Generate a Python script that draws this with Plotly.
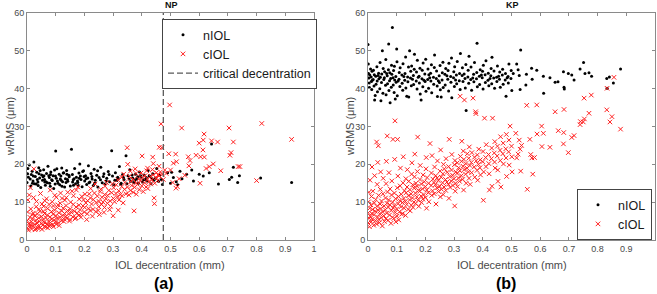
import plotly.graph_objects as go

W, H = 657, 294

# ---------------- data ----------------
x_ticks = [0, 0.1, 0.2, 0.3, 0.4, 0.5, 0.6, 0.7, 0.8, 0.9, 1]
x_tick_labels = ["0", "0.1", "0.2", "0.3", "0.4", "0.5", "0.6", "0.7", "0.8", "0.9", "1"]
y_ticks = [0, 10, 20, 30, 40, 50, 60]
y_tick_labels = ["0", "10", "20", "30", "40", "50", "60"]
critical_decentration = 0.475

# NP panel, nIOL (x mm, wRMS um)
np_niol = [
    (0.000, 15.2), (0.002, 17.5), (0.008, 19.8), (0.011, 16.1), (0.013, 14.3), (0.018, 18.2), (0.021, 15.6),
    (0.024, 20.6), (0.029, 16.8), (0.032, 14.8), (0.034, 17.9), (0.038, 15.3), (0.041, 19.1), (0.044, 16.4),
    (0.048, 13.9), (0.051, 17.2), (0.054, 15.8), (0.058, 18.6), (0.061, 16.0), (0.064, 14.5), (0.068, 17.6),
    (0.071, 15.1), (0.073, 19.5), (0.078, 16.5), (0.081, 14.2), (0.083, 18.0), (0.088, 15.7), (0.091, 17.0),
    (0.093, 13.6), (0.100, 23.5), (0.102, 16.3), (0.104, 18.8), (0.108, 15.0), (0.112, 17.4), (0.114, 14.6),
    (0.118, 16.9), (0.121, 19.0), (0.124, 15.4), (0.128, 17.8), (0.131, 14.0), (0.134, 16.2), (0.138, 18.4),
    (0.142, 15.5), (0.147, 16.7), (0.151, 14.3), (0.155, 24.0), (0.158, 17.3), (0.161, 15.9), (0.166, 18.9),
    (0.169, 14.9), (0.172, 16.6), (0.177, 15.2), (0.181, 17.7), (0.184, 20.1), (0.188, 16.0), (0.192, 14.1),
    (0.197, 18.3), (0.201, 15.6), (0.204, 17.0), (0.208, 14.7), (0.212, 16.4), (0.214, 19.6), (0.219, 15.3),
    (0.223, 17.6), (0.227, 16.1), (0.231, 14.4), (0.234, 18.7), (0.238, 15.8), (0.243, 17.1), (0.247, 14.0),
    (0.251, 16.5), (0.257, 19.2), (0.262, 15.1), (0.268, 17.5), (0.272, 14.8), (0.278, 16.3), (0.283, 18.1),
    (0.288, 15.4), (0.295, 23.6), (0.298, 16.9), (0.302, 14.6), (0.308, 17.8), (0.313, 15.7), (0.318, 16.2),
    (0.322, 19.4), (0.328, 15.0), (0.333, 17.3), (0.338, 16.0), (0.345, 22.3), (0.348, 14.9), (0.352, 17.0),
    (0.358, 18.6), (0.362, 15.5), (0.368, 16.4), (0.372, 15.2), (0.378, 17.4), (0.382, 16.1), (0.388, 15.0),
    (0.392, 18.0), (0.398, 16.6), (0.402, 15.3), (0.408, 17.2), (0.412, 16.0), (0.418, 15.6), (0.422, 18.4),
    (0.428, 16.8), (0.432, 14.9), (0.438, 17.5), (0.442, 15.8), (0.448, 16.3), (0.452, 18.9), (0.458, 15.5),
    (0.462, 17.1), (0.468, 16.0), (0.472, 14.7),
    (0.005, 16.6), (0.015, 17.3), (0.026, 14.9), (0.036, 16.0), (0.046, 18.4), (0.056, 16.7), (0.066, 15.4),
    (0.076, 17.0), (0.086, 15.9), (0.096, 18.5), (0.106, 15.6), (0.116, 16.1), (0.126, 17.7), (0.136, 15.2),
    (0.146, 17.1), (0.164, 16.2), (0.176, 15.6), (0.186, 16.9), (0.194, 18.1), (0.206, 16.2), (0.216, 15.1),
    (0.226, 16.8), (0.236, 15.0), (0.246, 18.3), (0.256, 15.9), (0.266, 16.8), (0.276, 15.6), (0.286, 17.3),
    (0.306, 15.8), (0.316, 16.6), (0.326, 14.7), (0.336, 16.5), (0.356, 16.1), (0.366, 17.2), (0.376, 15.7),
    (0.386, 16.7), (0.396, 17.0), (0.406, 15.9), (0.416, 16.5), (0.426, 17.0), (0.436, 16.2), (0.003, 18.9),
    (0.022, 16.9), (0.042, 17.5), (0.062, 15.3), (0.082, 17.3), (0.098, 14.8), (0.122, 14.2), (0.141, 16.0),
    (0.162, 14.5), (0.182, 16.3), (0.019, 15.0), (0.039, 14.4), (0.059, 17.0), (0.079, 15.0), (0.099, 16.9),
    (0.119, 15.8), (0.139, 17.4), (0.159, 15.3), (0.179, 14.4), (0.199, 16.8),
    (0.490, 17.8), (0.500, 15.0), (0.504, 17.9), (0.520, 15.4), (0.533, 18.2), (0.540, 16.2), (0.556, 17.4),
    (0.574, 18.5), (0.580, 15.6), (0.600, 17.4), (0.614, 16.9), (0.635, 17.8), (0.643, 25.4), (0.667, 14.8),
    (0.705, 16.0), (0.713, 16.6), (0.719, 19.2), (0.734, 15.2), (0.740, 17.0), (0.814, 16.4), (0.922, 15.2),
    (0.510, 16.5), (0.525, 14.6),
]

# NP panel, cIOL
np_ciol = [
    (0.000, 3.2), (0.001, 5.1), (0.002, 7.4), (0.003, 10.6), (0.005, 2.6), (0.006, 4.3), (0.010, 6.0),
    (0.011, 3.5), (0.012, 13.8), (0.013, 8.2), (0.015, 4.8), (0.016, 2.9), (0.019, 5.6), (0.021, 3.8),
    (0.022, 7.1), (0.023, 11.2), (0.025, 4.1), (0.027, 6.4), (0.030, 3.0), (0.031, 5.2), (0.032, 8.8),
    (0.035, 4.5), (0.036, 6.9), (0.040, 3.6), (0.041, 5.8), (0.043, 4.9), (0.045, 7.6), (0.046, 3.3),
    (0.047, 12.3), (0.050, 4.4), (0.051, 6.2), (0.052, 9.5), (0.055, 3.9), (0.056, 5.4), (0.060, 4.7),
    (0.061, 7.0), (0.062, 10.4), (0.065, 3.4), (0.066, 5.9), (0.070, 4.2), (0.071, 6.6), (0.072, 8.3),
    (0.075, 5.0), (0.076, 3.7), (0.080, 6.1), (0.081, 13.2), (0.082, 4.6), (0.085, 7.5), (0.086, 5.5),
    (0.090, 4.0), (0.091, 6.8), (0.092, 9.0), (0.095, 5.3), (0.096, 7.9), (0.100, 4.8), (0.101, 6.4),
    (0.102, 11.3), (0.105, 5.7), (0.106, 8.6), (0.110, 4.5), (0.111, 7.2), (0.115, 6.0), (0.116, 9.7),
    (0.120, 5.1), (0.121, 7.7), (0.122, 11.0), (0.125, 6.5), (0.126, 8.4), (0.130, 5.5), (0.131, 7.0),
    (0.132, 10.5), (0.135, 6.2), (0.136, 9.1), (0.140, 5.8), (0.141, 7.8), (0.142, 12.6), (0.145, 6.9),
    (0.150, 5.4), (0.151, 8.2), (0.152, 10.0), (0.155, 7.3), (0.160, 6.1), (0.161, 9.4), (0.162, 11.7),
    (0.165, 7.6), (0.170, 5.9), (0.171, 8.7), (0.172, 13.2), (0.175, 7.1), (0.180, 6.5), (0.181, 9.2),
    (0.182, 10.8), (0.185, 8.0), (0.190, 6.8), (0.191, 11.5), (0.195, 9.0), (0.200, 7.4), (0.201, 8.6),
    (0.202, 12.1), (0.205, 9.8), (0.210, 6.9), (0.211, 10.4), (0.215, 8.3), (0.220, 7.8), (0.221, 11.1),
    (0.222, 13.6), (0.225, 9.5), (0.230, 8.1), (0.231, 10.7), (0.235, 12.4), (0.240, 7.5), (0.241, 9.9),
    (0.245, 11.6), (0.250, 8.8), (0.251, 10.2), (0.252, 6.7), (0.255, 12.8), (0.260, 9.4), (0.261, 11.3),
    (0.265, 10.0), (0.270, 8.6), (0.271, 12.0), (0.272, 14.2), (0.275, 10.9), (0.280, 9.7), (0.281, 11.8),
    (0.285, 13.1), (0.290, 10.3), (0.291, 8.9), (0.295, 12.5), (0.300, 6.4), (0.301, 11.0), (0.302, 13.8),
    (0.305, 10.1), (0.310, 12.3), (0.311, 14.6), (0.315, 11.4), (0.318, 7.9), (0.320, 13.0), (0.321, 10.6),
    (0.325, 12.0), (0.330, 14.1), (0.331, 11.7), (0.335, 9.8), (0.340, 13.4), (0.341, 15.2), (0.345, 12.2),
    (0.350, 14.0), (0.351, 20.0), (0.349, 24.4), (0.355, 11.9), (0.360, 13.1), (0.361, 15.5), (0.365, 14.4),
    (0.370, 12.6), (0.371, 16.0), (0.373, 7.7), (0.375, 13.9), (0.380, 15.0), (0.381, 12.1), (0.385, 14.7),
    (0.390, 16.2), (0.391, 13.3), (0.395, 15.6), (0.400, 14.3), (0.401, 22.2), (0.402, 16.5), (0.405, 12.8),
    (0.410, 15.1), (0.411, 17.0), (0.415, 14.0), (0.420, 16.1), (0.421, 13.6), (0.425, 15.4), (0.430, 16.8),
    (0.431, 14.8), (0.435, 15.9), (0.438, 21.9), (0.440, 17.2), (0.443, 11.1), (0.444, 9.6), (0.445, 15.0),
    (0.450, 16.4), (0.451, 17.8), (0.455, 15.7), (0.460, 16.9), (0.461, 24.5), (0.465, 18.0), (0.467, 30.7),
    (0.470, 24.4), (0.471, 17.3), (0.475, 16.0), (0.480, 18.5), (0.485, 17.6), (0.494, 22.8), (0.497, 35.7),
    (0.360, 18.2), (0.420, 19.0), (0.440, 20.2), (0.460, 19.5), (0.380, 17.6), (0.330, 16.6),
    (0.012, 4.0), (0.028, 2.7), (0.038, 3.1), (0.052, 2.8), (0.062, 3.6), (0.072, 3.2), (0.082, 3.9),
    (0.092, 3.5), (0.102, 4.2), (0.112, 3.8), (0.018, 6.7), (0.042, 8.1), (0.058, 8.9), (0.068, 10.9),
    (0.088, 10.1), (0.108, 9.3), (0.128, 4.9), (0.148, 5.0), (0.168, 5.6), (0.188, 6.0), (0.208, 5.4),
    (0.228, 6.3), (0.248, 7.8), (0.268, 7.3), (0.288, 8.0), (0.008, 11.9), (0.024, 18.8), (0.033, 10.2),
    (0.057, 7.6), (0.077, 9.4), (0.097, 11.8), (0.117, 12.4), (0.137, 11.2), (0.157, 12.9), (0.177, 14.0),
    (0.197, 10.6), (0.217, 12.2), (0.237, 14.8), (0.257, 13.4), (0.277, 15.2), (0.297, 14.9), (0.317, 15.9),
    (0.337, 17.4), (0.357, 16.8), (0.377, 18.8), (0.397, 17.7), (0.417, 18.3), (0.437, 18.6), (0.457, 17.2),
    (0.510, 20.3), (0.518, 22.7), (0.521, 20.7), (0.524, 14.1), (0.519, 13.7), (0.539, 29.6), (0.550, 17.1),
    (0.562, 22.0), (0.564, 19.6), (0.568, 21.0), (0.589, 22.4), (0.600, 25.6), (0.603, 15.0), (0.605, 22.0),
    (0.614, 26.4), (0.613, 23.8), (0.617, 28.0), (0.618, 21.9), (0.624, 18.9), (0.635, 19.4), (0.643, 26.2),
    (0.649, 20.1), (0.664, 25.9), (0.675, 18.3), (0.704, 29.6), (0.707, 22.4), (0.711, 23.1), (0.719, 25.9),
    (0.736, 19.4), (0.742, 19.4), (0.800, 15.7), (0.818, 30.8), (0.922, 26.6), (0.500, 18.5), (0.530, 16.2),
    (0.508, 15.2),
]

# KP panel, nIOL
kp_niol = [
    (0.000, 51.7), (0.001, 46.5), (0.002, 44.0), (0.003, 42.8), (0.004, 41.5), (0.005, 40.3), (0.006, 43.6),
    (0.009, 45.2), (0.011, 43.1), (0.012, 41.9), (0.013, 39.8), (0.014, 44.6), (0.018, 42.4), (0.019, 44.9),
    (0.021, 40.7), (0.022, 43.7), (0.023, 37.0), (0.027, 43.3), (0.028, 41.2), (0.031, 45.8), (0.032, 42.0),
    (0.033, 39.2), (0.037, 44.1), (0.038, 42.6), (0.041, 40.0), (0.042, 46.9), (0.043, 43.0), (0.050, 50.0),
    (0.047, 41.6), (0.048, 43.9), (0.052, 38.8), (0.053, 45.3), (0.057, 42.9), (0.058, 44.5), (0.061, 40.9),
    (0.062, 47.7), (0.063, 38.4), (0.072, 51.8), (0.067, 43.4), (0.068, 41.3), (0.071, 45.0), (0.073, 39.5),
    (0.075, 42.1), (0.076, 44.2), (0.077, 36.3), (0.085, 56.2), (0.079, 42.7), (0.081, 40.4), (0.082, 46.2),
    (0.083, 43.8), (0.088, 41.0), (0.089, 44.8), (0.091, 39.0), (0.092, 45.9), (0.093, 42.3), (0.100, 50.5),
    (0.097, 43.2), (0.098, 41.7), (0.101, 47.1), (0.102, 38.1), (0.108, 42.5), (0.109, 44.3), (0.111, 40.6),
    (0.112, 45.5), (0.118, 43.6), (0.119, 41.4), (0.121, 39.6), (0.122, 46.6), (0.128, 42.2), (0.129, 44.0),
    (0.131, 48.4), (0.132, 40.2), (0.138, 43.1), (0.139, 41.8), (0.141, 45.7), (0.142, 37.8), (0.145, 50.0),
    (0.148, 42.8), (0.149, 44.6), (0.151, 40.8), (0.152, 46.0), (0.158, 43.5), (0.159, 41.1), (0.161, 45.1),
    (0.162, 49.1), (0.168, 42.0), (0.169, 44.4), (0.171, 39.9), (0.172, 47.5), (0.178, 43.3), (0.179, 41.5),
    (0.181, 45.4), (0.182, 38.6), (0.188, 42.6), (0.189, 44.9), (0.191, 40.5), (0.192, 46.8), (0.198, 43.9),
    (0.199, 41.9), (0.201, 47.8), (0.202, 39.3), (0.208, 42.4), (0.209, 45.2), (0.211, 40.1), (0.212, 43.7),
    (0.218, 44.1), (0.219, 42.0), (0.221, 46.3), (0.222, 38.9), (0.228, 43.0), (0.229, 41.2), (0.231, 45.6),
    (0.232, 48.9), (0.238, 42.7), (0.239, 44.7), (0.241, 40.7), (0.242, 37.9), (0.248, 43.4), (0.249, 41.6),
    (0.251, 46.1), (0.252, 39.7), (0.258, 42.3), (0.259, 44.2), (0.261, 47.0), (0.262, 40.3), (0.268, 43.8),
    (0.269, 41.0), (0.271, 45.3), (0.278, 42.5), (0.279, 44.8), (0.281, 39.4), (0.282, 46.7), (0.288, 43.2),
    (0.289, 41.7), (0.291, 48.1), (0.292, 37.6), (0.298, 42.9), (0.299, 44.5), (0.301, 40.6), (0.302, 45.8),
    (0.308, 43.6), (0.309, 41.3), (0.311, 47.2), (0.318, 42.1), (0.319, 44.0), (0.321, 39.8), (0.322, 49.3),
    (0.328, 43.5), (0.329, 45.5), (0.331, 41.9), (0.338, 42.7), (0.339, 40.2), (0.341, 46.4), (0.342, 34.2),
    (0.348, 43.1), (0.349, 44.9), (0.351, 41.4), (0.352, 48.6), (0.358, 42.4), (0.359, 45.7), (0.361, 39.6),
    (0.368, 43.8), (0.369, 41.8), (0.371, 46.9), (0.380, 52.0), (0.378, 42.6), (0.379, 44.3), (0.381, 40.5),
    (0.388, 43.3), (0.389, 41.1), (0.391, 45.0), (0.398, 42.9), (0.399, 44.6), (0.401, 39.9), (0.402, 46.2),
    (0.408, 43.7), (0.409, 41.6), (0.411, 47.4), (0.418, 42.2), (0.419, 44.1), (0.421, 40.8), (0.428, 43.4),
    (0.429, 45.3), (0.431, 41.3), (0.432, 48.3), (0.438, 42.8), (0.439, 44.7), (0.441, 40.1), (0.448, 43.0),
    (0.449, 41.9), (0.451, 46.0), (0.458, 42.5), (0.459, 44.4), (0.461, 40.4), (0.468, 43.6), (0.469, 45.1),
    (0.471, 41.2), (0.478, 42.3), (0.479, 44.0), (0.481, 38.0), (0.488, 43.2), (0.489, 41.5), (0.491, 46.5),
    (0.498, 42.7), (0.499, 44.8), (0.501, 39.5),
    (0.015, 42.2), (0.035, 43.5), (0.055, 42.4), (0.065, 44.0), (0.087, 42.9), (0.105, 42.0), (0.125, 43.2),
    (0.155, 42.5), (0.175, 43.0), (0.195, 42.2), (0.215, 42.9), (0.245, 42.1), (0.275, 43.4), (0.305, 42.3),
    (0.335, 43.9), (0.365, 42.8), (0.395, 43.6), (0.425, 42.7), (0.455, 43.3), (0.485, 42.9), (0.025, 38.2),
    (0.045, 36.8), (0.095, 37.3), (0.135, 38.0), (0.185, 37.0), (0.255, 37.8),
    (0.506, 44.0), (0.518, 46.5), (0.523, 45.0), (0.530, 39.8), (0.527, 43.5), (0.532, 50.2), (0.550, 41.0),
    (0.552, 43.8), (0.570, 45.4), (0.572, 42.5), (0.588, 44.9), (0.611, 43.3), (0.612, 38.8), (0.634, 42.9),
    (0.652, 41.7), (0.662, 41.8), (0.681, 44.5), (0.683, 40.4), (0.684, 39.9), (0.698, 44.0), (0.710, 43.6),
    (0.718, 42.3), (0.739, 45.2), (0.751, 46.9), (0.756, 44.0), (0.770, 44.2), (0.779, 43.3), (0.832, 42.7),
    (0.833, 40.1), (0.841, 43.1), (0.855, 41.5), (0.880, 45.2),
]

# KP panel, cIOL
kp_ciol = [
    (0.000, 4.5), (0.001, 7.2), (0.002, 10.1), (0.003, 12.6), (0.004, 5.8), (0.005, 3.5), (0.006, 8.4),
    (0.007, 15.8), (0.008, 6.3), (0.010, 9.3), (0.011, 4.8), (0.012, 11.5), (0.013, 7.0), (0.014, 19.3),
    (0.015, 5.5), (0.016, 8.1), (0.017, 12.9), (0.020, 3.9), (0.021, 6.7), (0.022, 9.8), (0.023, 17.0),
    (0.025, 7.6), (0.026, 5.1), (0.027, 10.7), (0.030, 4.2), (0.031, 8.9), (0.032, 14.7), (0.033, 6.1),
    (0.036, 24.9), (0.030, 25.9), (0.034, 20.5), (0.035, 7.9), (0.037, 11.8), (0.038, 5.4), (0.040, 4.6),
    (0.041, 6.9), (0.042, 9.5), (0.043, 13.4), (0.044, 18.0), (0.045, 8.3), (0.046, 5.9), (0.047, 10.3),
    (0.050, 3.7), (0.051, 7.4), (0.052, 12.2), (0.053, 16.3), (0.055, 6.4), (0.056, 9.0), (0.057, 4.9),
    (0.060, 8.0), (0.061, 11.1), (0.062, 5.6), (0.063, 14.9), (0.064, 20.8), (0.065, 7.1), (0.066, 9.7),
    (0.068, 12.7), (0.067, 27.5), (0.070, 5.2), (0.071, 8.7), (0.072, 10.6), (0.073, 17.8), (0.075, 6.6),
    (0.076, 9.3), (0.077, 13.5), (0.080, 4.4), (0.081, 7.8), (0.082, 11.9), (0.083, 15.6), (0.085, 6.0),
    (0.086, 10.0), (0.088, 8.5), (0.087, 26.6), (0.090, 5.7), (0.091, 9.1), (0.092, 12.4), (0.093, 21.3),
    (0.094, 31.5), (0.095, 7.3), (0.096, 10.9), (0.097, 4.8), (0.100, 8.2), (0.101, 6.3), (0.102, 13.8),
    (0.104, 16.9), (0.103, 26.6), (0.105, 9.6), (0.106, 11.5), (0.107, 5.3), (0.110, 7.5), (0.111, 10.4),
    (0.112, 14.3), (0.113, 19.0), (0.115, 8.8), (0.116, 12.1), (0.117, 6.8), (0.120, 9.9), (0.121, 7.0),
    (0.122, 15.1), (0.123, 22.0), (0.125, 11.0), (0.126, 8.4), (0.127, 13.0), (0.130, 10.2), (0.131, 6.5),
    (0.132, 16.2), (0.133, 12.5), (0.135, 9.4), (0.136, 14.0), (0.137, 18.6), (0.140, 8.1), (0.141, 11.7),
    (0.142, 15.5), (0.145, 10.6), (0.146, 13.3), (0.147, 7.7), (0.150, 12.2), (0.151, 9.2), (0.152, 17.4),
    (0.153, 20.4), (0.155, 11.1), (0.156, 14.6), (0.157, 8.6), (0.160, 10.0), (0.161, 13.7), (0.162, 16.7),
    (0.163, 22.7), (0.165, 12.4), (0.166, 9.6), (0.167, 15.0), (0.170, 11.4), (0.171, 14.2), (0.172, 18.1),
    (0.173, 27.2), (0.175, 10.5), (0.176, 13.1), (0.177, 8.9), (0.180, 12.9), (0.181, 16.0), (0.182, 19.7),
    (0.185, 11.6), (0.186, 14.8), (0.187, 9.9), (0.190, 13.5), (0.191, 10.8), (0.192, 17.2), (0.195, 12.0),
    (0.196, 15.4), (0.200, 14.1), (0.201, 11.2), (0.202, 18.8), (0.203, 21.8), (0.204, 8.4), (0.205, 13.2),
    (0.206, 16.5), (0.210, 12.5), (0.211, 15.0), (0.212, 10.1), (0.216, 25.5), (0.220, 14.4), (0.221, 17.7),
    (0.222, 11.8), (0.223, 22.3), (0.225, 13.0), (0.226, 16.1), (0.230, 15.2), (0.231, 12.2), (0.232, 19.3),
    (0.235, 14.6), (0.236, 17.0), (0.237, 9.5), (0.240, 13.8), (0.241, 16.4), (0.242, 20.9), (0.245, 15.7),
    (0.246, 12.8), (0.250, 14.2), (0.251, 18.2), (0.252, 11.4), (0.253, 23.8), (0.255, 16.6), (0.256, 13.4),
    (0.260, 15.1), (0.261, 17.5), (0.262, 12.0), (0.263, 20.0), (0.265, 14.0), (0.266, 18.8), (0.270, 16.0),
    (0.271, 13.1), (0.272, 21.5), (0.275, 15.3), (0.276, 17.9), (0.280, 14.7), (0.281, 19.4), (0.282, 11.0),
    (0.283, 26.6), (0.285, 16.8), (0.286, 13.9), (0.290, 15.6), (0.291, 18.5), (0.292, 22.6), (0.295, 17.1),
    (0.296, 14.4), (0.300, 16.2), (0.301, 19.9), (0.302, 9.0), (0.303, 21.0), (0.304, 12.9), (0.305, 15.0),
    (0.306, 18.0), (0.310, 17.6), (0.311, 20.4), (0.312, 14.1), (0.315, 16.4), (0.316, 19.1), (0.320, 18.3),
    (0.319, 15.5), (0.322, 22.1), (0.321, 38.0), (0.325, 17.0), (0.326, 20.8), (0.327, 26.1), (0.330, 16.0),
    (0.331, 19.5), (0.332, 23.5), (0.333, 13.2), (0.335, 18.6), (0.334, 21.3), (0.336, 37.0), (0.340, 17.4),
    (0.341, 20.2), (0.342, 15.0), (0.345, 19.0), (0.346, 22.8), (0.350, 18.0), (0.351, 21.6), (0.352, 16.3),
    (0.353, 24.6), (0.355, 19.7), (0.356, 14.7), (0.360, 20.5), (0.361, 17.8), (0.362, 23.1), (0.366, 37.5),
    (0.370, 19.3), (0.371, 21.9), (0.372, 16.6), (0.375, 33.9), (0.376, 33.4), (0.377, 20.9), (0.380, 18.4),
    (0.381, 22.5), (0.382, 15.8), (0.385, 20.0), (0.386, 24.0), (0.390, 19.1), (0.391, 21.2), (0.392, 17.2),
    (0.400, 20.7), (0.406, 32.2), (0.401, 23.4), (0.402, 10.5), (0.403, 18.0), (0.410, 21.8), (0.411, 19.4),
    (0.412, 25.2), (0.420, 22.6), (0.421, 20.2), (0.422, 17.5), (0.423, 13.2), (0.434, 32.2), (0.430, 21.5),
    (0.431, 24.3), (0.432, 14.2), (0.440, 23.0), (0.441, 20.6), (0.442, 26.0), (0.443, 19.0), (0.450, 22.2),
    (0.451, 24.8), (0.452, 18.5), (0.453, 15.5), (0.460, 23.7), (0.461, 21.0), (0.462, 27.3), (0.463, 14.0),
    (0.470, 22.8), (0.471, 25.6), (0.472, 20.1), (0.480, 24.1), (0.481, 21.7), (0.482, 27.9), (0.483, 16.8),
    (0.490, 23.3), (0.491, 26.4), (0.492, 19.8), (0.495, 30.1), (0.500, 24.8), (0.501, 22.0), (0.502, 18.0),
    (0.515, 28.2), (0.518, 21.7), (0.523, 22.7), (0.527, 26.4), (0.530, 24.0), (0.532, 18.2), (0.535, 25.0),
    (0.553, 35.6), (0.555, 13.4), (0.564, 26.6), (0.567, 22.6), (0.571, 21.7), (0.574, 17.4), (0.580, 21.8),
    (0.588, 35.7), (0.589, 28.0), (0.605, 30.1), (0.606, 24.7), (0.611, 28.2), (0.634, 24.5), (0.652, 33.9),
    (0.663, 28.9), (0.681, 25.4), (0.682, 28.4), (0.683, 34.5), (0.698, 23.1), (0.710, 27.1), (0.718, 27.6),
    (0.739, 30.5), (0.740, 31.3), (0.750, 31.2), (0.753, 37.5), (0.754, 32.0), (0.770, 33.5), (0.778, 38.3),
    (0.832, 34.4), (0.833, 40.1), (0.843, 31.2), (0.850, 32.6), (0.857, 43.0), (0.880, 29.3),
]


def unzip(pairs):
    return [p[0] for p in pairs], [p[1] for p in pairs]


FONT = "Liberation Sans, Arial, Helvetica, sans-serif"
RED = "#ff2020"
BLACK = "#000000"
AXIS_COLOR = "#8a8a8a"
TEXT_GRAY = "#4a4a4a"

dot_marker = dict(symbol="circle", size=3, color=BLACK)
cross_marker = dict(symbol="x-thin", size=4.5, color=RED, line=dict(color=RED, width=1))

fig = go.Figure()

# NP panel
x, y = unzip(np_niol)
fig.add_trace(go.Scatter(x=x, y=y, mode="markers", name="nIOL", marker=dot_marker,
                         xaxis="x", yaxis="y", legend="legend"))
x, y = unzip(np_ciol)
fig.add_trace(go.Scatter(x=x, y=y, mode="markers", name="cIOL", marker=cross_marker,
                         xaxis="x", yaxis="y", legend="legend"))
fig.add_trace(go.Scatter(x=[critical_decentration, critical_decentration],
                         y=[y_ticks[0], y_ticks[-1]], mode="lines",
                         name="critical decentration",
                         line=dict(color="#5a5a5a", width=1.3, dash="6px,3px"),
                         xaxis="x", yaxis="y", legend="legend"))

# KP panel
x, y = unzip(kp_niol)
fig.add_trace(go.Scatter(x=x, y=y, mode="markers", name="nIOL", marker=dot_marker,
                         xaxis="x2", yaxis="y2", legend="legend2"))
x, y = unzip(kp_ciol)
fig.add_trace(go.Scatter(x=x, y=y, mode="markers", name="cIOL", marker=cross_marker,
                         xaxis="x2", yaxis="y2", legend="legend2"))


def px_x(p):
    return p / W


def px_y(p):
    return 1 - p / H


axis_common = dict(
    showgrid=False, zeroline=False, showline=True, linecolor=AXIS_COLOR, linewidth=1,
    mirror="ticks", ticks="inside", ticklen=3, tickcolor=AXIS_COLOR, tickwidth=1,
    tickfont=dict(family=FONT, size=9, color=TEXT_GRAY), automargin=False,
)
xaxis_common = dict(axis_common, range=[x_ticks[0], x_ticks[-1]], tickmode="array",
                    tickvals=x_ticks, ticktext=x_tick_labels)
yaxis_common = dict(axis_common, range=[y_ticks[0], y_ticks[-1]], tickmode="array",
                    tickvals=y_ticks, ticktext=y_tick_labels)

legend_common = dict(
    bgcolor="white", bordercolor="#444444", borderwidth=1,
    font=dict(family=FONT, size=12.5, color="#1a1a1a"),
    xanchor="left", yanchor="top", tracegroupgap=0, itemwidth=30,
)

fig.update_layout(
    width=W, height=H,
    margin=dict(l=0, r=0, t=0, b=0, pad=0, autoexpand=False),
    paper_bgcolor="white", plot_bgcolor="white",
    font=dict(family=FONT),
    xaxis=dict(xaxis_common, domain=[px_x(27), px_x(314)], anchor="y"),
    yaxis=dict(yaxis_common, domain=[px_y(240), px_y(13)], anchor="x"),
    xaxis2=dict(xaxis_common, domain=[px_x(368), px_x(655)], anchor="y2"),
    yaxis2=dict(yaxis_common, domain=[px_y(240), px_y(13)], anchor="x2"),
    legend=dict(legend_common, x=px_x(162), y=px_y(19)),
    legend2=dict(legend_common, x=px_x(577), y=px_y(189)),
    showlegend=True,
)

annotations = [
    dict(text="<b>NP</b>", x=px_x(171), y=px_y(5), size=9, color="#111"),
    dict(text="<b>KP</b>", x=px_x(512), y=px_y(5), size=9, color="#111"),
    dict(text="IOL decentration (mm)", x=px_x(170), y=px_y(265), size=11, color=TEXT_GRAY),
    dict(text="IOL decentration (mm)", x=px_x(512), y=px_y(265), size=11, color=TEXT_GRAY),
    dict(text="<b>(a)</b>", x=px_x(164), y=px_y(283), size=16, color="#000"),
    dict(text="<b>(b)</b>", x=px_x(506), y=px_y(283), size=16, color="#000"),
]
for a in annotations:
    fig.add_annotation(text=a["text"], x=a["x"], y=a["y"], xref="paper", yref="paper",
                       showarrow=False, xanchor="center", yanchor="middle",
                       font=dict(family=FONT, size=a["size"], color=a["color"]))
for xp in (10, 350):
    fig.add_annotation(text="wRMS (μm)", x=px_x(xp), y=px_y(127), xref="paper", yref="paper",
                       showarrow=False, xanchor="center", yanchor="middle", textangle=-90,
                       font=dict(family=FONT, size=11, color=TEXT_GRAY))

fig.write_html("out.html",
               config={"displayModeBar": False},
               post_script="document.body.style.margin='0px';document.body.style.overflow='hidden';")
